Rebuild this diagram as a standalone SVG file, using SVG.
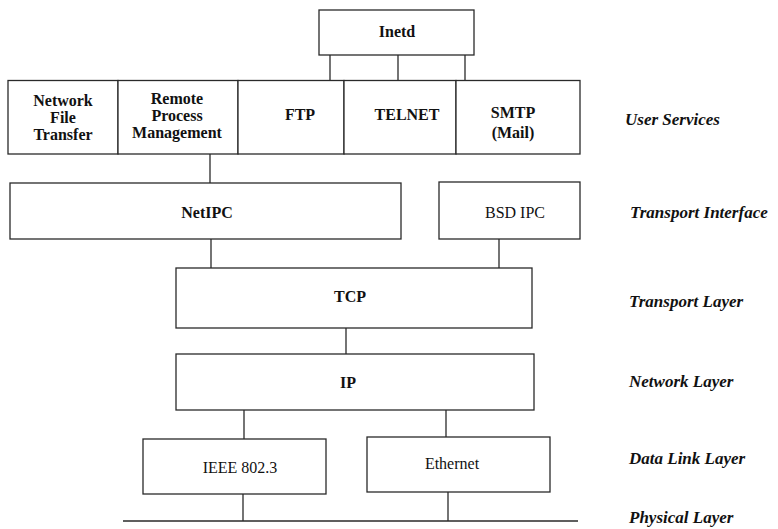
<svg xmlns="http://www.w3.org/2000/svg" width="778" height="529" viewBox="0 0 778 529">
<style>
.box{fill:#fff;stroke:#2a2a2a;stroke-width:1.3}
.ln{stroke:#2a2a2a;stroke-width:1.3;fill:none}
.t{font-family:"Times New Roman","Liberation Serif","DejaVu Serif",serif;font-size:16px;font-weight:700;fill:#111;text-anchor:middle}
.r{font-weight:400}
.lab{font-family:"Times New Roman","Liberation Serif","DejaVu Serif",serif;font-size:17px;font-weight:700;font-style:italic;fill:#111}
</style>
<rect width="778" height="529" fill="#fff"/>
<g id="connectors">
<line class="ln" x1="330" y1="55" x2="330" y2="80"/>
<line class="ln" x1="398" y1="55" x2="398" y2="80"/>
<line class="ln" x1="465" y1="55" x2="465" y2="80"/>
<line class="ln" x1="210" y1="154" x2="210" y2="183"/>
<line class="ln" x1="211" y1="239" x2="211" y2="268"/>
<line class="ln" x1="499" y1="239" x2="499" y2="268"/>
<line class="ln" x1="346" y1="328" x2="346" y2="354"/>
<line class="ln" x1="244" y1="410" x2="244" y2="439"/>
<line class="ln" x1="446" y1="410" x2="446" y2="437"/>
<line class="ln" x1="243" y1="494" x2="243" y2="521"/>
<line class="ln" x1="448" y1="492" x2="448" y2="521"/>
<line class="ln" x1="123" y1="521" x2="578" y2="521"/>
</g>
<g id="inetd"><rect class="box" x="319" y="10" width="155" height="45"/><text class="t" x="397" y="37">Inetd</text></g>
<g id="nft"><rect class="box" x="8" y="80.5" width="110" height="73.5"/><text class="t" x="63" y="106">Network</text><text class="t" x="63" y="123">File</text><text class="t" x="63" y="140">Transfer</text></g>
<g id="rpm"><rect class="box" x="118" y="80.5" width="120" height="73.5"/><text class="t" x="177" y="104">Remote</text><text class="t" x="177" y="121">Process</text><text class="t" x="177" y="138">Management</text></g>
<g id="ftp"><rect class="box" x="238" y="80.5" width="106" height="73.5"/><text class="t" x="300" y="120">FTP</text></g>
<g id="telnet"><rect class="box" x="344" y="80.5" width="112" height="73.5"/><text class="t" x="407" y="120">TELNET</text></g>
<g id="smtp"><rect class="box" x="456" y="80.5" width="124" height="73.5"/><text class="t" x="513" y="118">SMTP</text><text class="t" x="513" y="138">(Mail)</text></g>
<g id="netipc"><rect class="box" x="10" y="183" width="391" height="56"/><text class="t" x="207" y="218">NetIPC</text></g>
<g id="bsdipc"><rect class="box" x="439" y="182" width="141" height="57"/><text class="t r" x="515" y="218">BSD IPC</text></g>
<g id="tcp"><rect class="box" x="176" y="268" width="356" height="60"/><text class="t" x="350" y="302">TCP</text></g>
<g id="ip"><rect class="box" x="176" y="354" width="358" height="56"/><text class="t" x="348" y="388">IP</text></g>
<g id="ieee"><rect class="box" x="143" y="439" width="183" height="55"/><text class="t r" x="240" y="473">IEEE 802.3</text></g>
<g id="ethernet"><rect class="box" x="367" y="437" width="183" height="55"/><text class="t r" x="452" y="469">Ethernet</text></g>
<g id="labels">
<text class="lab" x="625" y="125">User Services</text>
<text class="lab" x="630" y="218">Transport Interface</text>
<text class="lab" x="629" y="307">Transport Layer</text>
<text class="lab" x="629" y="387">Network Layer</text>
<text class="lab" x="629" y="464">Data Link Layer</text>
<text class="lab" x="629" y="523">Physical Layer</text>
</g>
</svg>
